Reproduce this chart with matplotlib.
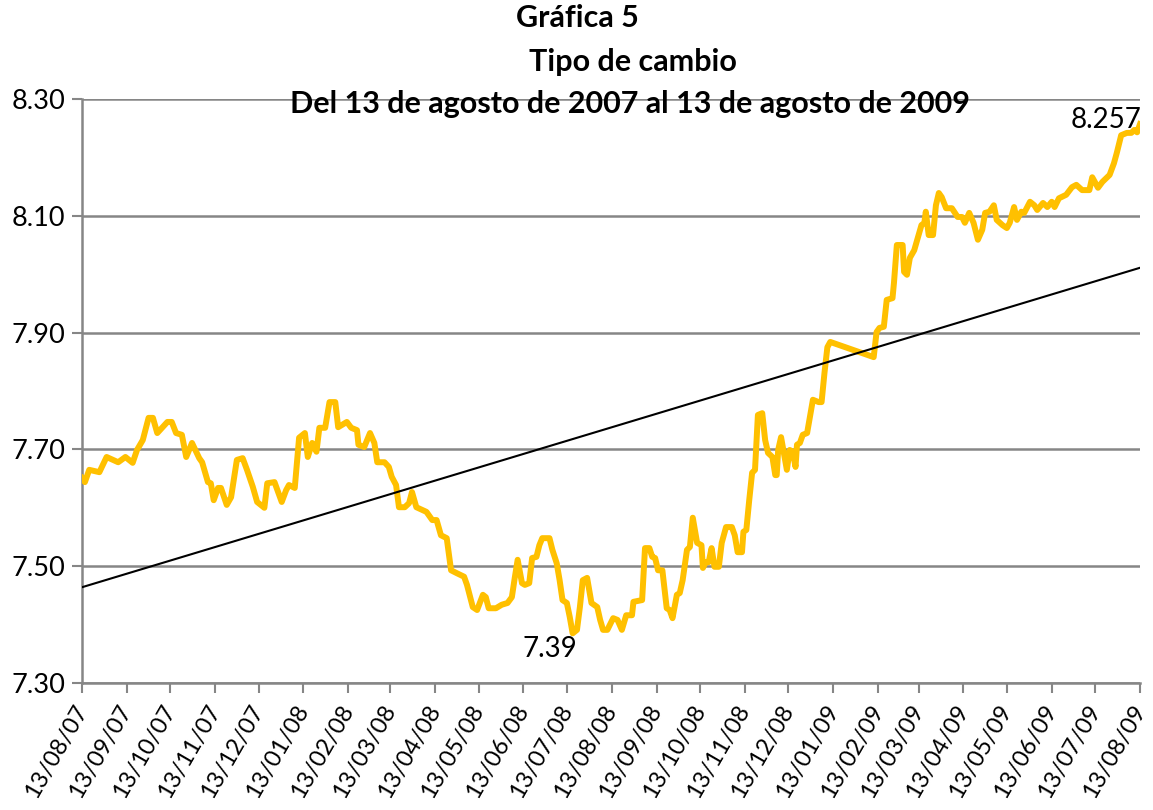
import matplotlib
matplotlib.use("Agg")
import matplotlib.pyplot as plt
import matplotlib.dates as mdates
import numpy as np

plt.rcParams['font.family'] = ['Lato', 'DejaVu Sans']

# tipo de cambio (lectura aproximada de la grafica)
dates = [
    "2007-08-13", "2007-08-15", "2007-08-18", "2007-08-25", "2007-08-30", "2007-09-07", "2007-09-12",
    "2007-09-17", "2007-09-20", "2007-09-24", "2007-09-28",
    "2007-10-01", "2007-10-04", "2007-10-11", "2007-10-14", "2007-10-17", "2007-10-21", "2007-10-24", "2007-10-28",
    "2007-11-02", "2007-11-04", "2007-11-08", "2007-11-10", "2007-11-12", "2007-11-15", "2007-11-17",
    "2007-11-21", "2007-11-24", "2007-11-28",
    "2007-12-02", "2007-12-05", "2007-12-09", "2007-12-12", "2007-12-17", "2007-12-19", "2007-12-24", "2007-12-29",
    "2008-01-01", "2008-01-03", "2008-01-07", "2008-01-10", "2008-01-14", "2008-01-16", "2008-01-19",
    "2008-01-22", "2008-01-24", "2008-01-28", "2008-01-31",
    "2008-02-04", "2008-02-06", "2008-02-12", "2008-02-15", "2008-02-19", "2008-02-20", "2008-02-24", "2008-02-28",
    "2008-03-02", "2008-03-04", "2008-03-09", "2008-03-12", "2008-03-14", "2008-03-17", "2008-03-19",
    "2008-03-23", "2008-03-26", "2008-03-28", "2008-03-31",
    "2008-04-07", "2008-04-11", "2008-04-14", "2008-04-17", "2008-04-21", "2008-04-24", "2008-04-28",
    "2008-05-03", "2008-05-05", "2008-05-09", "2008-05-12", "2008-05-16", "2008-05-18", "2008-05-20",
    "2008-05-25", "2008-05-29",
    "2008-06-02", "2008-06-05", "2008-06-07", "2008-06-09", "2008-06-12", "2008-06-14", "2008-06-17",
    "2008-06-19", "2008-06-22", "2008-06-24", "2008-06-26",
    "2008-07-01", "2008-07-03", "2008-07-06", "2008-07-08", "2008-07-10", "2008-07-13", "2008-07-15",
    "2008-07-17", "2008-07-20", "2008-07-22", "2008-07-24", "2008-07-27", "2008-07-30",
    "2008-08-03", "2008-08-05", "2008-08-07", "2008-08-10", "2008-08-14", "2008-08-17", "2008-08-20",
    "2008-08-23", "2008-08-27", "2008-08-28",
    "2008-09-03", "2008-09-05", "2008-09-08", "2008-09-10", "2008-09-12", "2008-09-14", "2008-09-17",
    "2008-09-20", "2008-09-22", "2008-09-24", "2008-09-27", "2008-09-29",
    "2008-10-01", "2008-10-04", "2008-10-06", "2008-10-08", "2008-10-11", "2008-10-14", "2008-10-15",
    "2008-10-17", "2008-10-19", "2008-10-21", "2008-10-23", "2008-10-26", "2008-10-28", "2008-10-31",
    "2008-11-04", "2008-11-06", "2008-11-08", "2008-11-11", "2008-11-12", "2008-11-14", "2008-11-16",
    "2008-11-17", "2008-11-18", "2008-11-20", "2008-11-22", "2008-11-25", "2008-11-27", "2008-11-29",
    "2008-12-02", "2008-12-04", "2008-12-05", "2008-12-06", "2008-12-08", "2008-12-12", "2008-12-14",
    "2008-12-16", "2008-12-18", "2008-12-19", "2008-12-21", "2008-12-23", "2008-12-26", "2008-12-27", "2008-12-30",
    "2009-01-03", "2009-01-05", "2009-01-07", "2009-01-09", "2009-01-11",
    "2009-02-10", "2009-02-12", "2009-02-14", "2009-02-17", "2009-02-19", "2009-02-23", "2009-02-24", "2009-02-26",
    "2009-03-02", "2009-03-03", "2009-03-05", "2009-03-07", "2009-03-10", "2009-03-12", "2009-03-15",
    "2009-03-17", "2009-03-18", "2009-03-20", "2009-03-23", "2009-03-25", "2009-03-27", "2009-03-29",
    "2009-04-01", "2009-04-05", "2009-04-09", "2009-04-12", "2009-04-14", "2009-04-17", "2009-04-20",
    "2009-04-23", "2009-04-26", "2009-04-28",
    "2009-05-01", "2009-05-04", "2009-05-06", "2009-05-10", "2009-05-13", "2009-05-15", "2009-05-18",
    "2009-05-20", "2009-05-23", "2009-05-25", "2009-05-29",
    "2009-06-01", "2009-06-03", "2009-06-07", "2009-06-10", "2009-06-13", "2009-06-15", "2009-06-18",
    "2009-06-23", "2009-06-27", "2009-06-30",
    "2009-07-04", "2009-07-09", "2009-07-11", "2009-07-15", "2009-07-18", "2009-07-23", "2009-07-26",
    "2009-07-28", "2009-07-31",
    "2009-08-04", "2009-08-07", "2009-08-09", "2009-08-11", "2009-08-13",
]

values = [
    7.651, 7.644, 7.665, 7.661, 7.687, 7.678, 7.687, 7.677, 7.699, 7.716, 7.754,
    7.754, 7.728, 7.747, 7.747, 7.728, 7.725, 7.687, 7.711,
    7.685, 7.678, 7.644, 7.642, 7.613, 7.634, 7.634, 7.605, 7.618, 7.682,
    7.685, 7.665, 7.636, 7.610, 7.600, 7.642, 7.644, 7.610,
    7.630, 7.639, 7.634, 7.720, 7.728, 7.687, 7.711, 7.696, 7.737, 7.737, 7.781,
    7.781, 7.738, 7.747, 7.737, 7.733, 7.708, 7.704, 7.728,
    7.711, 7.678, 7.678, 7.670, 7.653, 7.639, 7.601, 7.601, 7.608, 7.627, 7.601,
    7.593, 7.579, 7.579, 7.553, 7.548, 7.493, 7.488,
    7.482, 7.468, 7.430, 7.425, 7.451, 7.447, 7.428, 7.428, 7.434,
    7.437, 7.447, 7.480, 7.511, 7.471, 7.468, 7.471, 7.514, 7.516, 7.536, 7.548,
    7.548, 7.528, 7.505, 7.476, 7.442, 7.437, 7.413, 7.385, 7.391, 7.430, 7.476, 7.480, 7.437,
    7.430, 7.408, 7.391, 7.391, 7.411, 7.408, 7.391, 7.416, 7.416, 7.439,
    7.442, 7.531, 7.531, 7.516, 7.514, 7.493, 7.493, 7.428, 7.425, 7.411, 7.451, 7.454,
    7.476, 7.528, 7.533, 7.583, 7.540, 7.536, 7.497, 7.507, 7.507, 7.531, 7.499, 7.499, 7.540, 7.567,
    7.567, 7.553, 7.524, 7.524, 7.559, 7.562, 7.613, 7.636, 7.660, 7.665, 7.759, 7.762, 7.716, 7.694,
    7.687, 7.656, 7.656, 7.699, 7.721, 7.665, 7.699, 7.696, 7.670, 7.708, 7.711, 7.725, 7.728, 7.742, 7.785,
    7.781, 7.781, 7.831, 7.875, 7.884,
    7.858, 7.901, 7.908, 7.910, 7.956, 7.959, 7.985, 8.050,
    8.050, 8.004, 7.999, 8.028, 8.041, 8.058, 8.084, 8.088, 8.107, 8.067, 8.067, 8.118, 8.139, 8.132,
    8.113, 8.113, 8.098, 8.098, 8.088, 8.105, 8.088, 8.059, 8.076, 8.105,
    8.107, 8.118, 8.093, 8.084, 8.079, 8.088, 8.115, 8.093, 8.107, 8.105, 8.124,
    8.118, 8.110, 8.122, 8.115, 8.124, 8.115, 8.130, 8.136, 8.149, 8.153,
    8.144, 8.144, 8.166, 8.148, 8.158, 8.170, 8.190, 8.208, 8.238,
    8.242, 8.242, 8.247, 8.243, 8.257,
]

# linea de tendencia (extremos)
trend_dates = ["2007-08-13", "2009-08-13"]
trend_values = [7.464, 8.011]

title_lines = ["Gráfica 5", "Tipo de cambio", "Del 13 de agosto de 2007 al 13 de agosto de 2009"]

x = np.array(dates, dtype="datetime64[D]")
y = np.array(values)
xt = np.array(trend_dates, dtype="datetime64[D]")

fig = plt.figure(figsize=(11.53, 8.10), dpi=100)
ax = fig.add_axes([82 / 1153, 1 - 683 / 810, (1140 - 82) / 1153, (683 - 99) / 810])

grid_col = "#868686"
ax.plot(x, y, color="#FFC000", lw=4.3, solid_joinstyle="round", zorder=3)
ax.plot(xt, trend_values, color="black", lw=1.5, zorder=4)

ax.set_xlim(x[0], x[-1])
ax.set_ylim(7.30, 8.30)
ax.set_yticks(np.arange(7.30, 8.31, 0.20))
ax.yaxis.set_major_formatter(plt.FormatStrFormatter("%.2f"))
ax.yaxis.grid(True, color=grid_col, lw=1.8)
ax.set_axisbelow(True)

ax.xaxis.set_major_locator(mdates.MonthLocator(bymonthday=13))
ax.xaxis.set_major_formatter(mdates.DateFormatter("%d/%m/%y"))
ax.tick_params(axis="both", colors=grid_col, labelcolor="black",
               length=7, width=1.5, direction="out")
ax.tick_params(axis="x", pad=10, labelsize=17)
ax.tick_params(axis="y", pad=5, labelsize=19.5)
for lab in ax.get_xticklabels():
    lab.set_rotation(60)
    lab.set_ha("right")
    lab.set_va("center")
    lab.set_rotation_mode("anchor")
for s in ["top", "right"]:
    ax.spines[s].set_visible(False)
for s in ["left", "bottom"]:
    ax.spines[s].set_color(grid_col)
    ax.spines[s].set_linewidth(1.8)

# etiquetas de minimo y ultimo dato
imin = int(np.argmin(y))
ax.annotate("7.39", xy=(x[imin], y[imin]), xytext=(-23, -16), textcoords="offset pixels",
            ha="center", va="center", fontsize=20)
ax.annotate("8.257", xy=(x[-1], y[-1]), xytext=(2, 4), textcoords="offset pixels",
            ha="right", va="center", fontsize=20)

fig.text(577 / 1153, 1 - 18 / 810, title_lines[0], ha="center", va="center", fontsize=22, fontweight="bold")
fig.text(633 / 1153, 1 - 62 / 810, title_lines[1], ha="center", va="center", fontsize=22, fontweight="bold")
fig.text(630 / 1153, 1 - 104 / 810, title_lines[2], ha="center", va="center", fontsize=22, fontweight="bold")

fig.savefig("out.png", dpi=100)
